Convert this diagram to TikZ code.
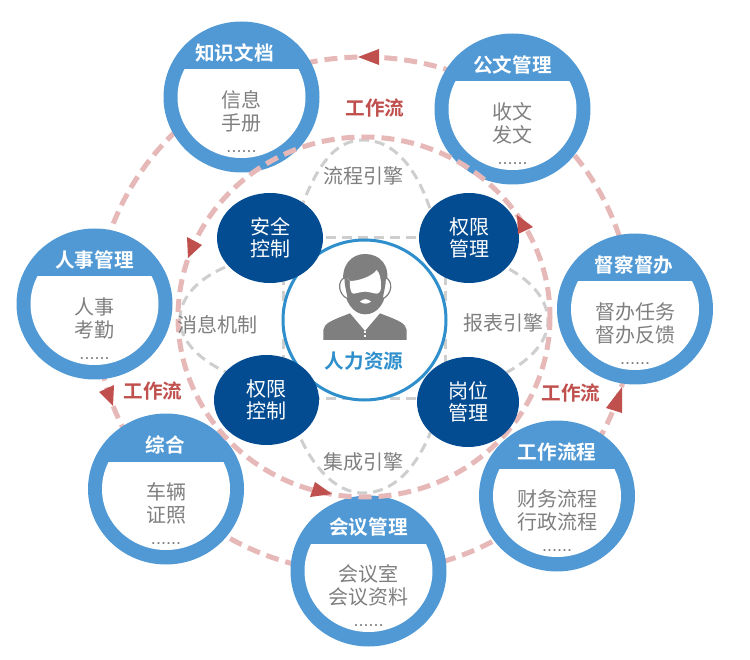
\documentclass[tikz,border=0pt]{standalone}
\usepackage{fontspec}
\setmainfont[BoldFont=Noto Sans CJK SC Bold]{Noto Sans CJK SC}
\newfontfamily\dotfont{Liberation Sans}
\usetikzlibrary{shapes.geometric}
\definecolor{ringblue}{HTML}{5199D4}
\definecolor{deepblue}{HTML}{034C91}
\definecolor{lineblue}{HTML}{2E8FCC}
\definecolor{pinkdash}{HTML}{E6B9B8}
\definecolor{graydash}{HTML}{CECECE}
\definecolor{txtgray}{HTML}{7F7F7F}
\definecolor{redmark}{HTML}{C0504D}
\tikzset{
  x=1pt,y=-1pt,
  pinkring/.style={draw=pinkdash,line width=5pt,dash pattern=on 13pt off 7pt},
  lobe/.style={draw=graydash,line width=3pt,dash pattern=on 10pt off 6pt},
  bigring/.style={ellipse,fill=ringblue,inner sep=0pt,minimum width=156pt,minimum height=151pt},
  headtxt/.style={inner sep=0pt,text=white,font=\fontsize{19.6}{19}\selectfont\bfseries},
  bodytxt/.style={inner sep=0pt,text=txtgray,align=center,font=\fontsize{20}{23}\selectfont},
  dotstxt/.style={inner sep=0pt,text=txtgray,anchor=base,font=\fontsize{18}{18}\dotfont},
  lobetxt/.style={inner sep=0pt,text=txtgray,font=\fontsize{20}{20}\selectfont},
  flowtxt/.style={inner sep=0pt,text=redmark,font=\fontsize{19.6}{19}\selectfont\bfseries},
  darkdisc/.style={ellipse,fill=deepblue,inner sep=0pt,minimum width=103pt,minimum height=90pt,text=white,align=center,font=\fontsize{20}{22.5}\selectfont},
  tipmark/.style={fill=redmark},
  iconfill/.style={fill=txtgray},
}
\newcommand{\bignode}[6][0]{%
  \begin{scope}[shift={(#3,#4)}]
    \node[bigring] (#2) at (0,0) {};
    \begin{scope}
      \clip (-70,-27) rectangle (70,70);
      \fill[white] (0,0) ellipse [x radius=64,y radius=61];
    \end{scope}
    \node[headtxt] (#2-h) at (#1,-44) {#5};
    \node[bodytxt] (#2-b) at (0,14) {#6};
    \node[dotstxt] (#2-d) at (0,55.5) {......};
  \end{scope}}
\begin{document}
\begin{tikzpicture}
\useasboundingbox (0,0) rectangle (750,660);
\fill[white] (0,0) rectangle (750,660);
% outer ring
\draw[pinkring] (364,315) ellipse [x radius=268,y radius=258];
% big circles
\bignode[-7]{zhishi}{241.5}{97}{知识文档}{信息\\手册}
\bignode{gongwen}{512.5}{109}{公文管理}{收文\\发文}
\bignode[-1]{ducha}{635}{309}{督察督办}{督办任务\\督办反馈}
\bignode{renshi}{94.5}{304}{人事管理}{人事\\考勤}
\bignode[-1]{zonghe}{166}{489}{综合}{车辆\\证照}
\bignode{huiyi}{368.5}{571}{会议管理}{会议室\\会议资料}
\bignode{liucheng}{557}{496}{工作流程}{财务流程\\行政流程}
% gray lobes
\draw[lobe] (295,225) .. controls (315,165) and (335,140) .. (363,140) .. controls (395,140) and (420,170) .. (435,225);
\draw[lobe] (310,237.5) -- (425,237.5);
\draw[lobe] (240,262) .. controls (205,272) and (178,295) .. (180,322) .. controls (182,345) and (205,365) .. (240,378);
\draw[lobe] (283,275) -- (283,365);
\draw[lobe] (495,262) .. controls (525,275) and (547,295) .. (548,320) .. controls (548,345) and (525,365) .. (495,378);
\draw[lobe] (445.5,275) -- (445.5,365);
\draw[lobe] (295,425) .. controls (310,465) and (335,493) .. (363,493) .. controls (395,493) and (420,465) .. (435,420);
\draw[lobe] (310,398.5) -- (425,398.5);
% inner ring
\draw[pinkring] (364,317) ellipse [x radius=186,y radius=180];
% centre
\node[ellipse,draw=lineblue,fill=white,line width=3pt,inner sep=0pt,minimum width=163pt,minimum height=160pt] (centre) at (364.5,320) {};
\begin{scope}[shift={(315,245)},x=0.33333pt,y=-0.33333pt]
  \fill[iconfill] (86,120) .. controls (76,60) and (110,27) .. (150,27) .. controls (195,27) and (227,60) .. (215,120) .. controls (214,170) and (190,208) .. (150,208) .. controls (115,208) and (88,170) .. (86,120) -- cycle;
  \fill[white] (96,100) -- (105,108) .. controls (130,108) and (170,95) .. (185,75) .. controls (195,85) and (198,100) .. (198,125) .. controls (198,135) and (195,145) .. (185,146) .. controls (175,145) and (160,140) .. (150,140) .. controls (140,140) and (125,145) .. (115,146) .. controls (108,145) and (103,130) .. (105,108) -- cycle;
  \fill[white] (135,170) .. controls (145,160) and (158,160) .. (168,170) .. controls (158,178) and (145,178) .. (135,170) -- cycle;
  \draw[txtgray,fill=white,line width=1.2pt] (90,98) .. controls (66,105) and (68,150) .. (100,162) .. controls (96,140) and (90,120) .. (90,98) -- cycle;
  \draw[txtgray,fill=white,line width=1.2pt] (211,98) .. controls (235,105) and (233,150) .. (201,162) .. controls (205,140) and (211,120) .. (211,98) -- cycle;
  \fill[iconfill] (25,285) -- (25,255) .. controls (28,235) and (45,228) .. (105,205) -- (150,258) -- (195,205) .. controls (255,228) and (272,235) .. (275,255) -- (275,285) -- cycle;
  \fill[white] (146,258) rectangle (154,265);
  \fill[white] (146,269) rectangle (154,276);
\end{scope}
\node[inner sep=0pt,text=lineblue,font=\fontsize{19.6}{19}\selectfont\bfseries] (centre-t) at (364,361) {人力资源};
% dark discs
\node[darkdisc,minimum width=106pt] (anquan) at (270,238) {安全\\控制};
\node[darkdisc,minimum width=100pt] (quanguan) at (469,238) {权限\\管理};
\node[darkdisc,minimum width=105pt] (quankong) at (266.5,400) {权限\\控制};
\node[darkdisc,minimum width=102pt] (gangwei) at (468,402) {岗位\\管理};
% lobe labels
\node[lobetxt] (t1) at (363,176) {流程引擎};
\node[lobetxt] (t2) at (217,325) {消息机制};
\node[lobetxt] (t3) at (503,323) {报表引擎};
\node[lobetxt] (t4) at (363,462) {集成引擎};
% flow labels
\node[flowtxt] (f1) at (375,108) {工作流};
\node[flowtxt] (f2) at (153,391) {工作流};
\node[flowtxt] (f3) at (571,393) {工作流};
% arrow marks
\fill[tipmark] (358,57) -- (379,49) -- (379,65) -- cycle;
\fill[tipmark] (99,392) -- (114,385) -- (113,406) -- cycle;
\fill[tipmark] (606,408) -- (622,387) -- (622,413) -- cycle;
\fill[tipmark] (533,227) -- (517,215) -- (518,234) -- cycle;
\fill[tipmark] (187,237) -- (202,245) -- (188,258) -- cycle;
\fill[tipmark] (310,497) -- (315,482) -- (332,494) -- cycle;
\end{tikzpicture}
\end{document}
